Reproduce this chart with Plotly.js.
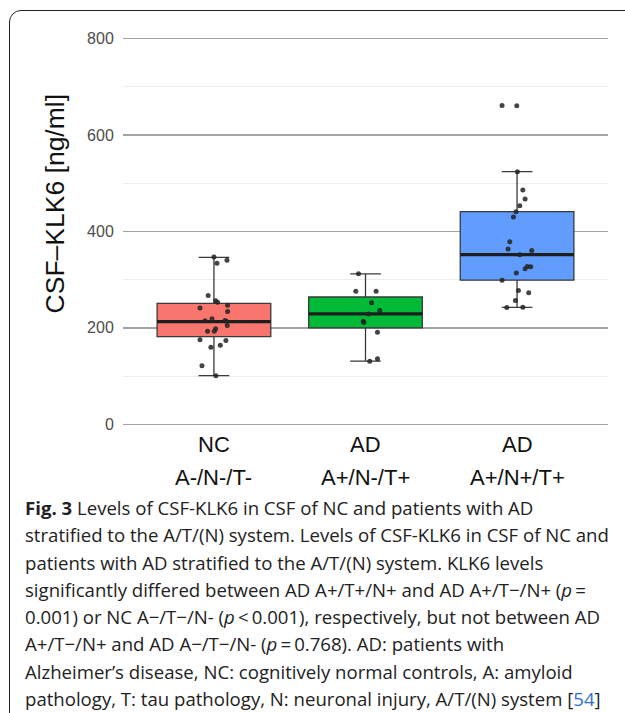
<!DOCTYPE html>
<html>
<head>
<meta charset="utf-8">
<script src="https://cdn.plot.ly/plotly-3.0.1.min.js"></script>
<style>
  html, body { margin: 0; padding: 0; background: #fff; }
  #wrap { position: relative; width: 625px; height: 713px; overflow: hidden; }
  #plot { position: absolute; left: 0; top: 0; width: 625px; height: 713px; }
  #frame { position: absolute; left: 9px; top: 10px; width: 640px; height: 720px;
           border: 1.6px solid #222; border-radius: 12px; box-sizing: border-box; pointer-events: none; }
  #caption { position: absolute; left: 25px; top: 494px; font-family: "Open Sans", sans-serif;
             font-size: 18.6px; line-height: 27.3px; color: #222; white-space: nowrap; }
  #caption b { font-weight: 700; }
  #caption .ref { color: #2f6fd6; }
</style>
</head>
<body>
<div id="wrap">
  <div id="plot"></div>
  <div id="frame"></div>
  <div id="caption">
    <div><b>Fig. 3</b> Levels of CSF-KLK6 in CSF of NC and patients with AD</div>
    <div>stratified to the A/T/(N) system. Levels of CSF-KLK6 in CSF of NC and</div>
    <div>patients with AD stratified to the A/T/(N) system. KLK6 levels</div>
    <div>significantly differed between AD A+/T+/N+ and AD A+/T−/N+ (<i>p</i>&#8201;=</div>
    <div>0.001) or NC A−/T−/N- (<i>p</i>&#8201;&lt;&#8201;0.001), respectively, but not between AD</div>
    <div>A+/T−/N+ and AD A−/T−/N- (<i>p</i>&#8201;=&#8201;0.768). AD: patients with</div>
    <div>Alzheimer’s disease, NC: cognitively normal controls, A: amyloid</div>
    <div>pathology, T: tau pathology, N: neuronal injury, A/T/(N) system <span>[</span><span class="ref">54</span><span>]</span></div>
  </div>
</div>
<script>
// ---- data ----
const groupNames  = ["NC", "AD", "AD"];
const groupStages = ["A-/N-/T-", "A+/N-/T+", "A+/N+/T+"];

const boxQ1     = [182, 200, 299];
const boxMedian = [213, 229, 352];
const boxQ3     = [251, 264, 441];
const boxLower  = [101, 131, 242.5];
const boxUpper  = [346, 312, 524];

const ncValues  = [346.7, 334, 340, 267, 256, 253, 241, 247, 234, 219, 215, 215.5, 213.5, 205, 198, 193, 193, 175.5, 174, 160, 164, 121.6, 101];
const ncJitter  = [0, 0.02, 0.086, -0.038, 0.011, 0.024, -0.092, 0.09, 0.09, -0.013, -0.059, 0.073, 0.081, 0.088, 0.011, 0.002, -0.042, -0.092, 0.079, -0.02, 0.042, -0.079, 0.013];

const adNValues = [312, 276, 276, 252, 236, 229, 211, 214, 190.7, 130.6, 136];
const adNJitter = [-0.046, -0.064, 0.07, 0.04, 0.094, 0.02, -0.011, -0.015, 0.079, 0.028, 0.079];

const adPValues = [661, 660.5, 523.7, 485.6, 467, 453, 441, 429.7, 378.6, 363.4, 360.6, 351.7, 322.6, 327.5, 326.8, 313.6, 299, 277.7, 273, 257, 242.5, 243];
const adPJitter = [-0.099, -0.002, 0.002, 0.038, 0.053, 0.018, -0.007, -0.024, -0.048, -0.059, 0.097, 0.018, 0.053, 0.068, 0.09, -0.005, -0.099, 0.009, 0.077, -0.011, -0.068, 0.038];

const yTicks = [0, 200, 400, 600, 800];
const yMinorTicks = [100, 300, 500, 700];
const yTitle = "CSF–KLK6 [ng/ml]";

// ---- styles ----
const fills = ["#F8766D", "#00BA38", "#619CFF"];
const boxW = 0.75;
const pointsByGroup = [[ncValues, ncJitter], [adNValues, adNJitter], [adPValues, adPJitter]];

const traces = [];
groupNames.forEach((g, i) => {
  traces.push({
    type: "box", x: [i],
    q1: [boxQ1[i]], median: [boxMedian[i]], q3: [boxQ3[i]],
    lowerfence: [boxLower[i]], upperfence: [boxUpper[i]],
    width: boxW, whiskerwidth: 0.27, boxpoints: false,
    fillcolor: fills[i], line: { color: "#3a3a3a", width: 1.3 },
    hoverinfo: "skip", showlegend: false
  });
});
groupNames.forEach((g, i) => {
  traces.push({
    type: "scatter", mode: "lines",
    x: [i - boxW / 2, i + boxW / 2], y: [boxMedian[i], boxMedian[i]],
    line: { color: "#1e1e1e", width: 3.2 }, hoverinfo: "skip", showlegend: false
  });
});
pointsByGroup.forEach(([vals, jit], i) => {
  traces.push({
    type: "scatter", mode: "markers",
    x: vals.map((v, k) => i + jit[k]), y: vals,
    marker: { color: "rgba(35,35,35,0.85)", size: 5 },
    hoverinfo: "skip", showlegend: false
  });
});

const labelFont = { family: "Liberation Sans, Arial, sans-serif", size: 22, color: "#111" };
const annotations = [];
groupNames.forEach((g, i) => {
  annotations.push({ x: i, xref: "x", y: 0, yref: "paper", yanchor: "middle", yshift: -10,
    text: g, showarrow: false, font: labelFont });
  annotations.push({ x: i, xref: "x", y: 0, yref: "paper", yanchor: "middle", yshift: -43,
    text: groupStages[i], showarrow: false, font: labelFont });
});
annotations.push({ x: 0, xref: "paper", xshift: -68, xanchor: "center", y: 0.56, yref: "paper", yanchor: "middle",
  text: yTitle, textangle: -90, showarrow: false,
  font: { family: "Liberation Sans, Arial, sans-serif", size: 26.5, color: "#111" } });

const layout = {
  width: 625, height: 713,
  margin: { l: 123, r: 17, t: 24, b: 279 },
  paper_bgcolor: "rgba(0,0,0,0)", plot_bgcolor: "#fff",
  showlegend: false,
  xaxis: { range: [-0.6, 2.6], showgrid: false, zeroline: false, showticklabels: false, showline: false, fixedrange: true },
  yaxis: {
    range: [-20, 830], tickmode: "array", tickvals: yTicks, ticktext: yTicks.map(String),
    showgrid: true, gridcolor: "#a3a3a3", gridwidth: 1.3, zeroline: false, showline: false,
    ticks: "outside", ticklen: 5, tickcolor: "rgba(0,0,0,0)",
    tickfont: { family: "Liberation Sans, Arial, sans-serif", size: 16, color: "#4d4d4d" },
    minor: { tickmode: "array", tickvals: yMinorTicks, showgrid: true, gridcolor: "#ececec", gridwidth: 1, ticks: "" },
    fixedrange: true
  },
  annotations: annotations
};

Plotly.newPlot("plot", traces, layout, { staticPlot: true, displayModeBar: false });
</script>
</body>
</html>
